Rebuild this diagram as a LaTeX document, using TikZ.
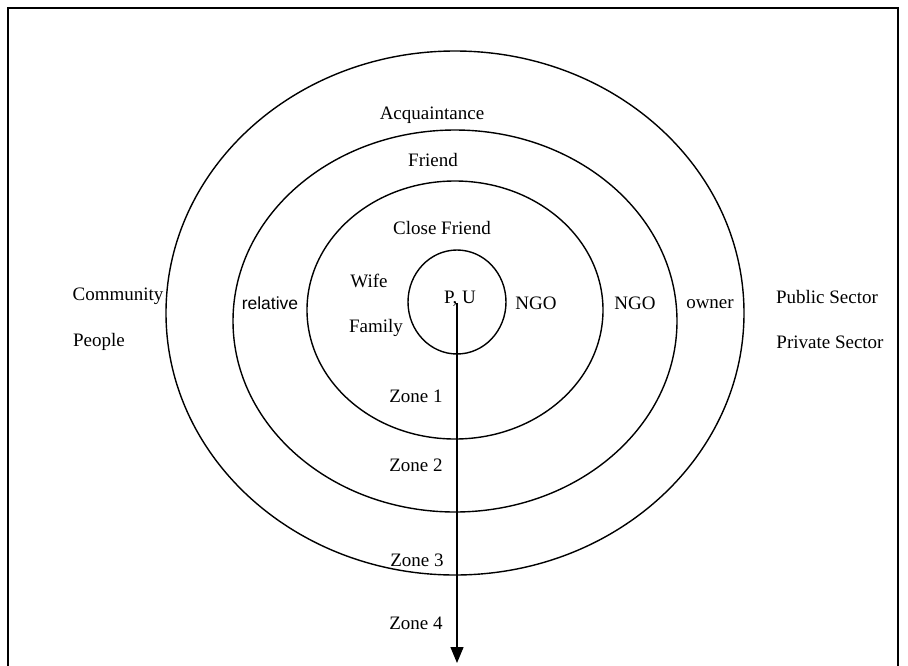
\documentclass[tikz,border=0pt]{standalone}
\usepackage{fontspec}
\setmainfont{Liberation Serif}
\newfontfamily\arialfont{Liberation Sans}
\usetikzlibrary{arrows.meta}

\begin{document}
\begin{tikzpicture}[x=1pt, y=-1pt, line width=1.4pt,
        lbl/.style={font=\fontsize{19}{21}\selectfont, inner sep=0pt}]
        \useasboundingbox (0,0) rectangle (908,665);
        \draw (8,672) -- (8,8) -- (898,8) -- (898,672);

        % zones
        \draw (455,313) ellipse (289pt and 262pt);
        \draw (455,321) ellipse (222pt and 191pt);
        \draw (455,310) ellipse (148pt and 129pt);
        \draw (457,302) ellipse (49pt and 52pt);

        \coordinate (pu) at (457,303);
        \coordinate (tip) at (457,663);
        \draw[-{Triangle[width=13pt,length=16pt]}] (pu) -- (tip);

        \node[lbl] (acq) at (432,115) {Acquaintance};
        \node[lbl] (friend) at (433,160) {Friend};
        \node[lbl] (close) at (442,228) {Close Friend};
        \node[lbl] (wife) at (369,281) {Wife};
        \node[lbl] (family) at (376,328) {Family};
        \node[lbl] (centre) at (460,299) {P, U};
        \node[lbl] (ngoa) at (536,303) {NGO};
        \node[lbl] (ngob) at (635,303) {NGO};
        \node[lbl, font=\arialfont\fontsize{17.5}{19}\selectfont] (relative) at (270,303) {relative};
        \node[lbl] (owner) at (710,304) {owner};
        \node[lbl] (community) at (118,296) {Community};
        \node[lbl] (people) at (99,342) {People};
        \node[lbl] (public) at (827,297) {Public Sector};
        \node[lbl] (private) at (830,342) {Private Sector};

        %\node[lbl] at (416,396) {Zone 0};
        \node[lbl] (zonea) at (416,396) {Zone 1};
        \node[lbl] (zoneb) at (416,465) {Zone 2};
        \node[lbl] (zonec) at (417,560) {Zone 3};
        \node[lbl] (zoned) at (416,623) {Zone 4};
    \end{tikzpicture}
\end{document}
